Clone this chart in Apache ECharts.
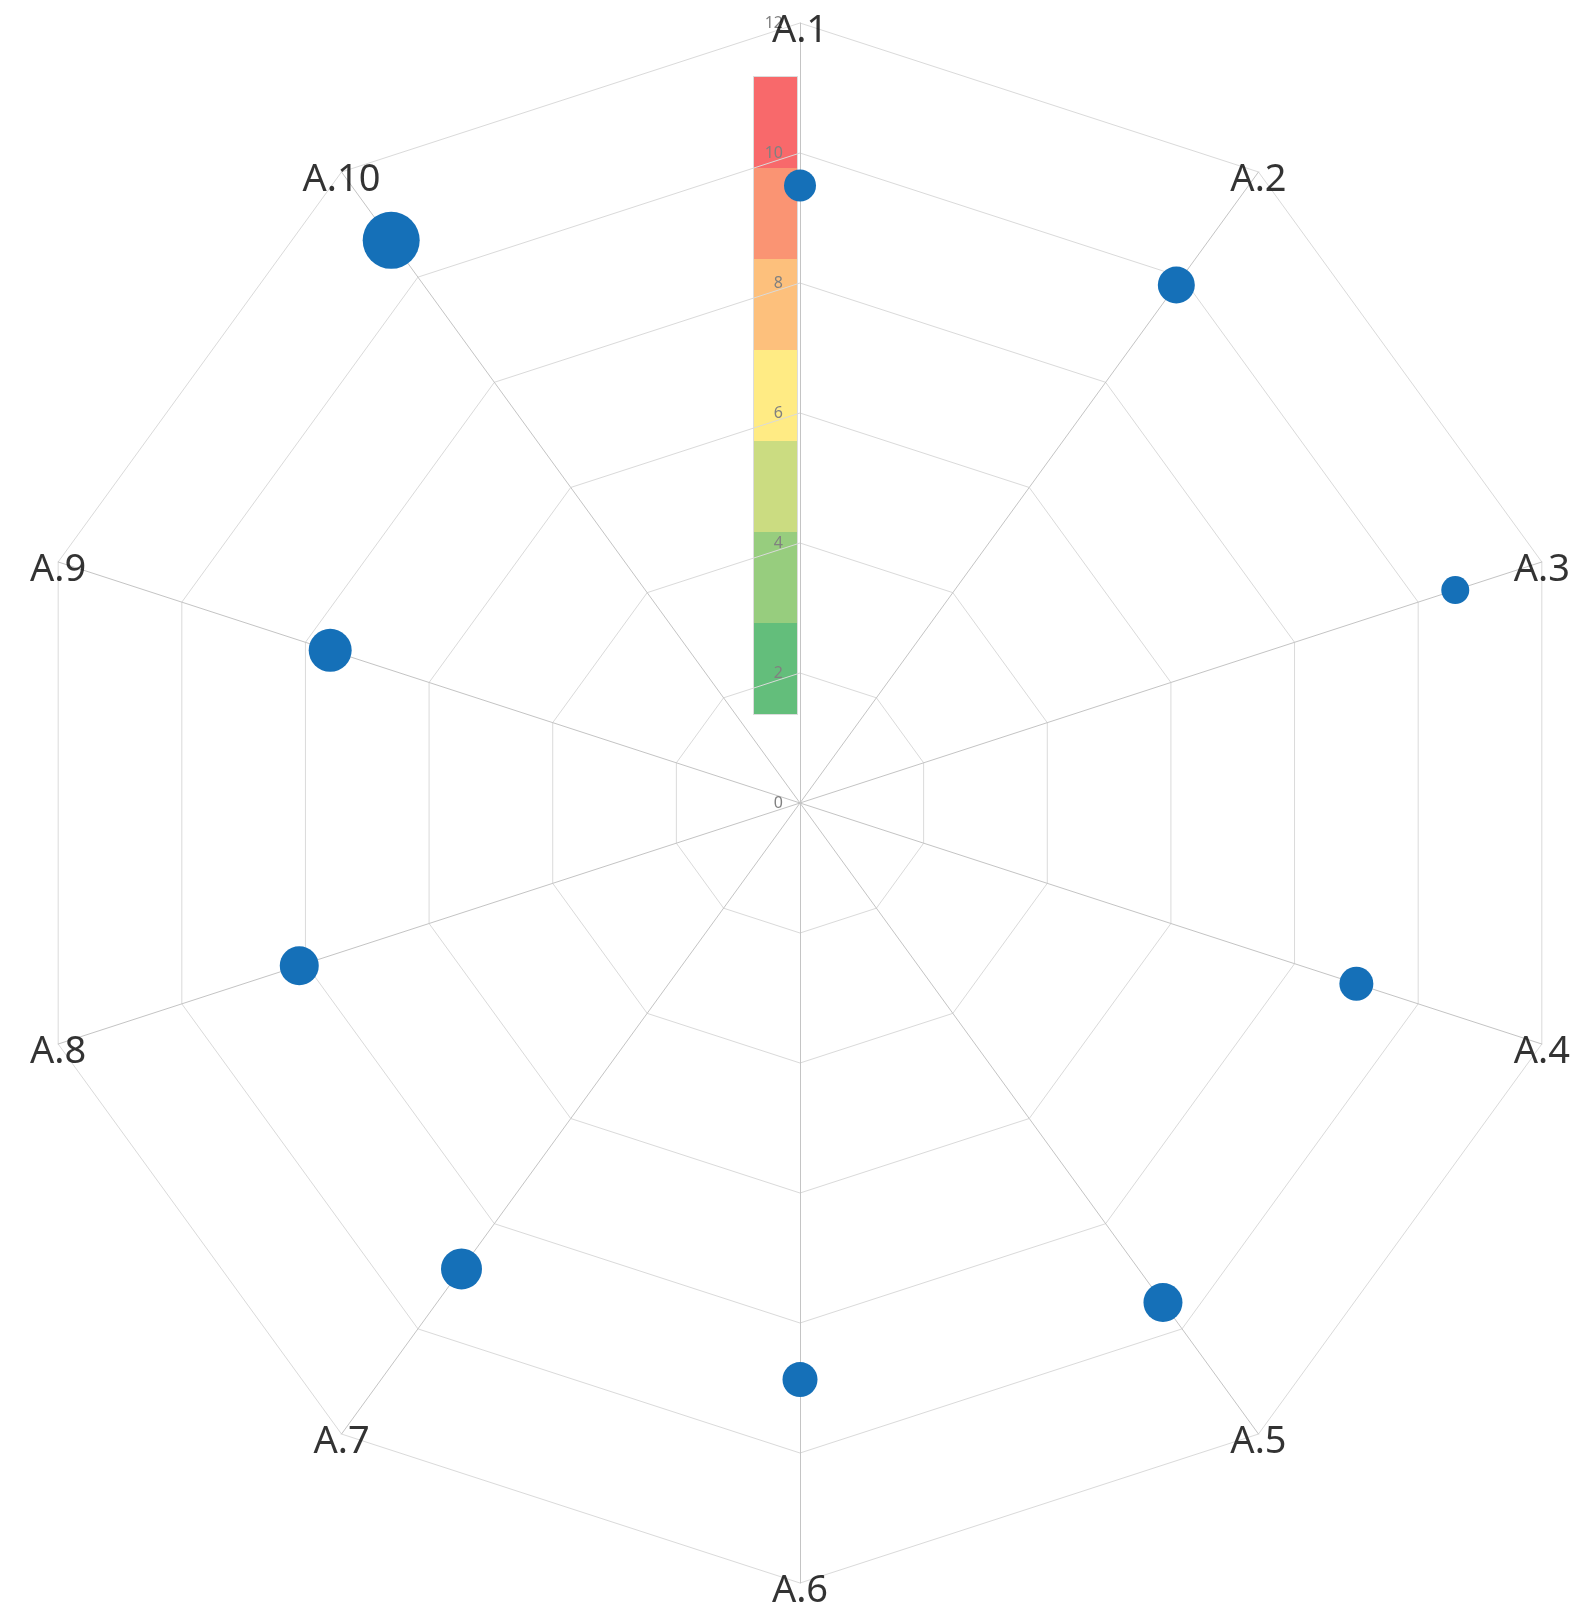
<!DOCTYPE html>
<html>
<head>
<meta charset="utf-8">
<script src="https://cdn.jsdelivr.net/npm/echarts@6/dist/echarts.min.js"></script>
<style>
html, body { margin: 0; padding: 0; background: #fff; }
#chart { width: 1570px; height: 1616px; }
</style>
</head>
<body>
<div id="chart"></div>
<script>
// values
var indicatorNames = ['A.1', 'A.2', 'A.3', 'A.4', 'A.5', 'A.6', 'A.7', 'A.8', 'A.9', 'A.10'];
var scores = [9.5, 9.85, 10.6, 9.0, 9.5, 8.87, 8.86, 8.1, 7.6, 10.7];
var weights = [3.2, 3.7, 2.8, 3.4, 3.9, 3.5, 4.1, 3.9, 4.3, 5.7];
var axisMax = 12;
var bandEdges = [1.4, 2.8, 4.2, 5.6, 7.0, 8.4, 9.8, 11.2];
var bandColors = ['#63BE7B', '#97CD7E', '#CBDC81', '#FFEB84', '#FDC07C', '#FA9473', '#F8696B'];

var chart = echarts.init(document.getElementById('chart'));

var indicators = indicatorNames.map(function (n, i) {
    var item = { name: n, min: 0, max: axisMax };
    if (i === 0) item.axisLabel = { show: true };
    return item;
});

var option = {
    backgroundColor: '#fff',
    animation: false,
    radar: {
        z: 2,
        center: [800, 803],
        radius: 780,
        startAngle: 90,
        splitNumber: 6,
        shape: 'polygon',
        indicator: indicators,
        axisName: { show: false },
        axisLine: { lineStyle: { color: '#c4c4c4', width: 1 } },
        axisTick: { show: false },
        axisLabel: {
            show: false,
            margin: 17,
            color: '#808080',
            fontSize: 16,
            fontFamily: 'Noto Sans'
        },
        splitLine: { lineStyle: { color: '#dadada', width: 1 } },
        splitArea: { show: false }
    },
    polar: { center: [800, 803], radius: 780 },
    angleAxis: {
        type: 'category',
        data: indicatorNames,
        boundaryGap: false,
        startAngle: 90,
        show: false
    },
    radiusAxis: { min: 0, max: axisMax, show: false },
    visualMap: {
        type: 'piecewise',
        seriesIndex: [],
        orient: 'vertical',
        left: 753,
        top: 76,
        z: 1,
        padding: 0,
        itemWidth: 43,
        itemHeight: 91,
        itemGap: 0,
        itemSymbol: 'rect',
        showLabel: false,
        selectedMode: false,
        hoverLink: false,
        borderColor: '#dcdcdc',
        borderWidth: 2,
        pieces: bandColors.map(function (c, i) {
            return { min: bandEdges[i], max: bandEdges[i + 1], color: c };
        })
    },
    series: [
        {
            type: 'scatter',
            coordinateSystem: 'polar',
            z: 3,
            data: scores.map(function (v, i) { return [v, i, weights[i]]; }),
            symbolSize: function (val) { return val[2] * 10; },
            itemStyle: { color: '#1570b8', opacity: 1 }
        },
        {
            // axis names
            type: 'scatter',
            coordinateSystem: 'polar',
            z: 3,
            silent: true,
            symbolSize: 1,
            itemStyle: { color: 'rgba(0,0,0,0)' },
            data: indicatorNames.map(function (n, i) { return [axisMax, i]; }),
            label: {
                show: true,
                position: 'inside',
                offset: [0, 8],
                formatter: function (p) { return indicatorNames[p.dataIndex]; },
                color: '#000',
                fontSize: 38,
                fontFamily: 'Noto Sans'
            }
        }
    ]
};

chart.setOption(option);
</script>
</body>
</html>
